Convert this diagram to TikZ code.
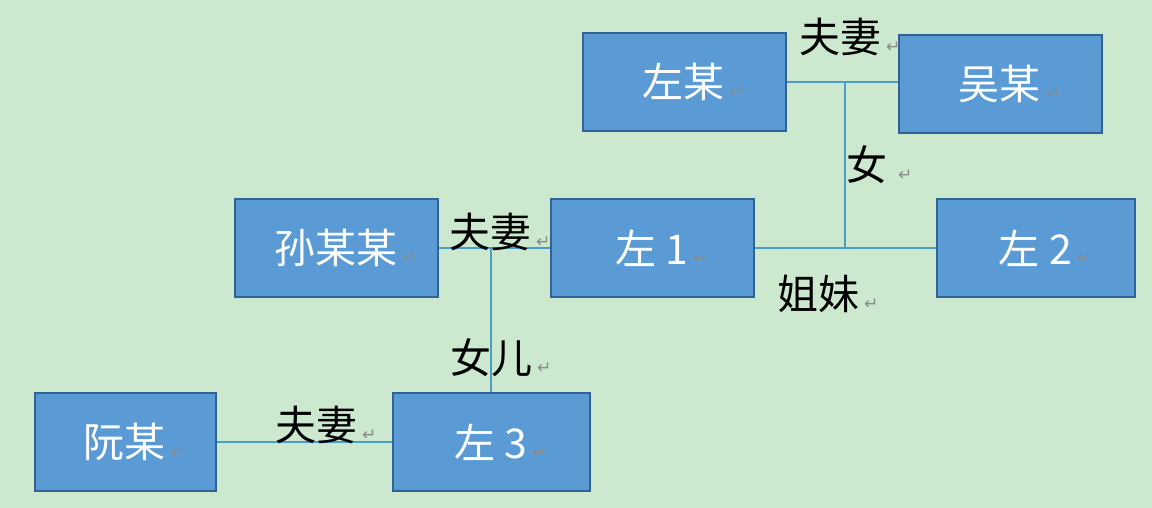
\documentclass[tikz,border=0pt]{standalone}
\usepackage{fontspec}
\setmainfont{Noto Sans CJK SC}
\newfontfamily\symfont{DejaVu Sans}
\definecolor{bg}{HTML}{CCE8CF}
\definecolor{boxfill}{HTML}{5B9BD5}
\definecolor{boxdraw}{HTML}{2F6396}
\definecolor{linkc}{HTML}{4C9EC4}
\definecolor{markc}{HTML}{8A8A8A}
\newcommand{\retmark}{\hspace{5pt}{\symfont\fontsize{17}{17}\selectfont\color{markc}↵}}
\newcommand{\boxtext}[1]{\hspace*{18pt}#1\retmark}
\tikzset{
  person/.style={draw=boxdraw, line width=2pt, fill=boxfill, text=white,
    minimum width=203pt, minimum height=98pt, inner sep=0pt,
    font=\fontsize{41}{44}\selectfont},
  rel/.style={anchor=west, inner sep=0pt, text=black, font=\fontsize{41}{44}\selectfont},
  link/.style={draw=linkc, line width=1.6pt}
}
\begin{document}
\begin{tikzpicture}[x=1pt,y=-1pt]
\fill[bg] (0,0) rectangle (1152,508);
\useasboundingbox (0,0) rectangle (1152,508);
% boxes
\node[person] (zuomou) at (684.5,82) {\boxtext{左某}};
\node[person] (wumou) at (1000.5,84) {\boxtext{吴某}};
\node[person] (sun) at (336.5,248) {\boxtext{孙某某}};
\node[person] (zuo1) at (652.5,248) {\boxtext{左 1}};
\node[person, minimum width=198pt] (zuo2) at (1036,248) {\boxtext{左 2}};
\node[person, minimum width=181pt] (ruan) at (125.5,442) {\boxtext{阮某}};
\node[person, minimum width=197pt] (zuo3) at (491.5,442) {\boxtext{左 3}};
% junction coordinates
\coordinate (j1) at (845,82);
\coordinate (j1b) at (845,248);
\coordinate (j2) at (491,248);
% connectors
\draw[link] (zuomou.east |- j1) -- (wumou.west |- j1);
\draw[link] (j1) -- (j1b);
\draw[link] (zuo1.east) -- (zuo2.west);
\draw[link] (sun.east) -- (zuo1.west);
\draw[link] (j2) -- (zuo3.north -| j2);
\draw[link] (ruan.east) -- (zuo3.west);
% labels
\node[rel] (l1) at (799,37) {夫妻\retmark};
\node[rel] (l2) at (846,165) {女\hspace{6pt}\retmark};
\node[rel] (l3) at (777,294) {姐妹\retmark};
\node[rel] (l4) at (449,232) {夫妻\retmark};
\node[rel] (l5) at (450,358) {女儿\retmark};
\node[rel] (l6) at (275,425) {夫妻\retmark};
\end{tikzpicture}
\end{document}
